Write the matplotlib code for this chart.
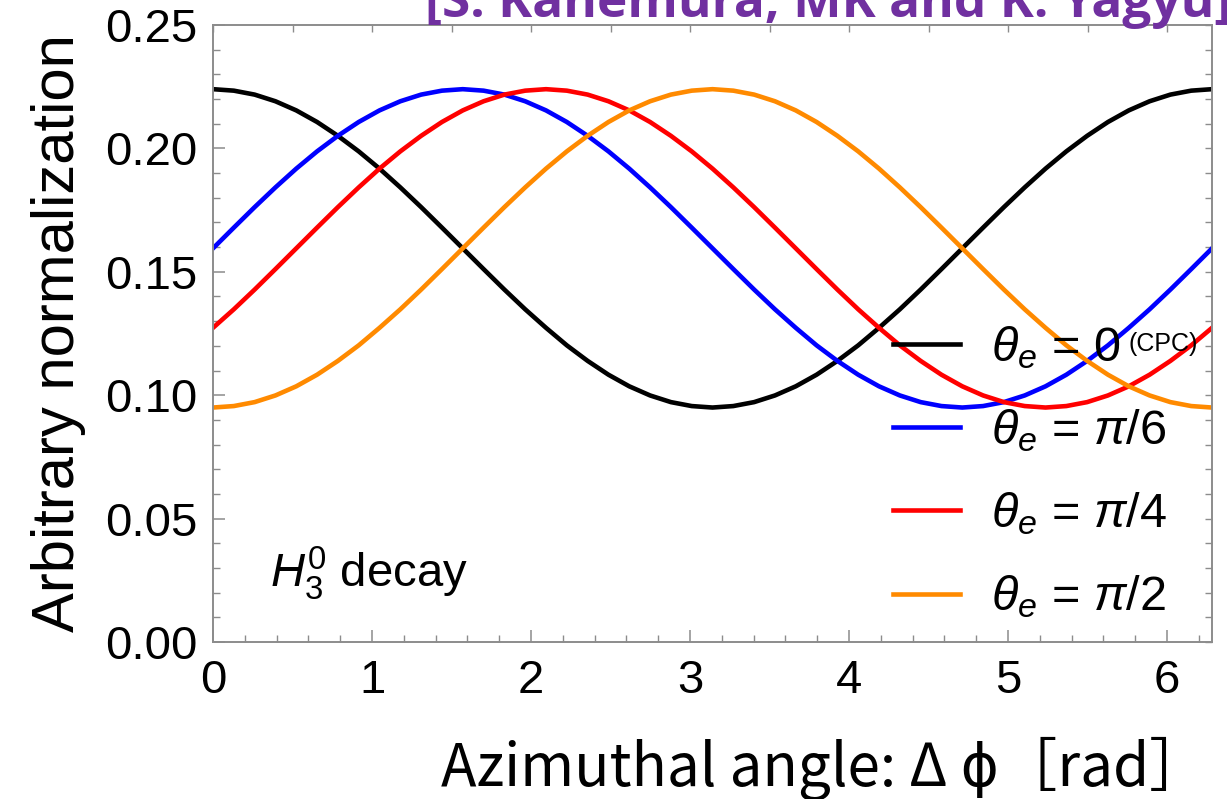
import numpy as np
import matplotlib
matplotlib.use("Agg")
import matplotlib.pyplot as plt
from matplotlib.ticker import MultipleLocator, NullFormatter

# Azimuthal angle grid, 0 .. 2*pi in steps of pi/24
dphi = np.arange(49) * np.pi / 24

# Normalized distributions for each electron-beam angle theta_e
theta_0 = [0.2240, 0.2234, 0.2218, 0.2191, 0.2154, 0.2107, 0.2051, 0.1988, 0.1918,
           0.1842, 0.1762, 0.1679, 0.1595, 0.1511, 0.1428, 0.1348, 0.1273, 0.1202,
           0.1139, 0.1083, 0.1036, 0.0999, 0.0972, 0.0956, 0.0950, 0.0956, 0.0972,
           0.0999, 0.1036, 0.1083, 0.1139, 0.1202, 0.1273, 0.1348, 0.1428, 0.1511,
           0.1595, 0.1679, 0.1762, 0.1842, 0.1918, 0.1988, 0.2051, 0.2107, 0.2154,
           0.2191, 0.2218, 0.2234, 0.2240]
theta_pi6 = [0.1595, 0.1679, 0.1762, 0.1842, 0.1918, 0.1988, 0.2051, 0.2107, 0.2154,
             0.2191, 0.2218, 0.2234, 0.2240, 0.2234, 0.2218, 0.2191, 0.2154, 0.2107,
             0.2051, 0.1988, 0.1918, 0.1842, 0.1762, 0.1679, 0.1595, 0.1511, 0.1428,
             0.1348, 0.1273, 0.1202, 0.1139, 0.1083, 0.1036, 0.0999, 0.0972, 0.0956,
             0.0950, 0.0956, 0.0972, 0.0999, 0.1036, 0.1083, 0.1139, 0.1202, 0.1273,
             0.1348, 0.1428, 0.1511, 0.1595]
theta_pi4 = [0.1273, 0.1348, 0.1428, 0.1511, 0.1595, 0.1679, 0.1762, 0.1842, 0.1918,
             0.1988, 0.2051, 0.2107, 0.2154, 0.2191, 0.2218, 0.2234, 0.2240, 0.2234,
             0.2218, 0.2191, 0.2154, 0.2107, 0.2051, 0.1988, 0.1918, 0.1842, 0.1762,
             0.1679, 0.1595, 0.1511, 0.1428, 0.1348, 0.1273, 0.1202, 0.1139, 0.1083,
             0.1036, 0.0999, 0.0972, 0.0956, 0.0950, 0.0956, 0.0972, 0.0999, 0.1036,
             0.1083, 0.1139, 0.1202, 0.1273]
theta_pi2 = [0.0950, 0.0956, 0.0972, 0.0999, 0.1036, 0.1083, 0.1139, 0.1202, 0.1273,
             0.1348, 0.1428, 0.1511, 0.1595, 0.1679, 0.1762, 0.1842, 0.1918, 0.1988,
             0.2051, 0.2107, 0.2154, 0.2191, 0.2218, 0.2234, 0.2240, 0.2234, 0.2218,
             0.2191, 0.2154, 0.2107, 0.2051, 0.1988, 0.1918, 0.1842, 0.1762, 0.1679,
             0.1595, 0.1511, 0.1428, 0.1348, 0.1273, 0.1202, 0.1139, 0.1083, 0.1036,
             0.0999, 0.0972, 0.0956, 0.0950]

series = [
    (theta_0, "#000000", r"$\theta_e$ = 0"),
    (theta_pi6, "#0000FF", r"$\theta_e$ = $\pi$/6"),
    (theta_pi4, "#FF0000", r"$\theta_e$ = $\pi$/4"),
    (theta_pi2, "#FF8A00", r"$\theta_e$ = $\pi$/2"),
]

x_ticks = [0, 1, 2, 3, 4, 5, 6]
y_ticks = [0.00, 0.05, 0.10, 0.15, 0.20, 0.25]
y_ticklabels = ["0.00", "0.05", "0.10", "0.15", "0.20", "0.25"]

plt.rcParams["font.family"] = ["Liberation Sans", "DejaVu Sans"]
plt.rcParams["mathtext.fontset"] = "custom"
plt.rcParams["mathtext.rm"] = "Liberation Sans"
plt.rcParams["mathtext.it"] = "Liberation Sans:italic"
plt.rcParams["mathtext.bf"] = "Liberation Sans:bold"

frame_gray = "#8c8c8c"

fig = plt.figure(figsize=(12.27, 7.99), dpi=100)
ax = fig.add_axes([0.1736, 0.1965, 0.8142, 0.7722])

for values, color, label in series:
    ax.plot(dphi, values, color=color, lw=3.3, label=label, solid_joinstyle="round")

ax.set_xlim(0, 2 * np.pi)
ax.set_ylim(0, 0.25)

ax.set_xticks(x_ticks)
ax.set_xticklabels([str(t) for t in x_ticks])
ax.xaxis.set_minor_locator(MultipleLocator(0.2))
ax.set_yticks(y_ticks)
ax.set_yticklabels(y_ticklabels)
ax.yaxis.set_minor_locator(MultipleLocator(0.01))

ax.tick_params(axis="both", which="major", direction="in", length=8.5, width=1.1,
               color=frame_gray, labelsize=34, labelcolor="black")
ax.tick_params(axis="both", which="minor", direction="in", length=5, width=1.0,
               color=frame_gray)
ax.tick_params(axis="x", which="major", pad=12)
ax.tick_params(axis="y", which="major", pad=11)

for side in ax.spines.values():
    side.set_color(frame_gray)
    side.set_linewidth(1.4)

# Unlabelled frame ticks on the top and right edges
top = ax.secondary_xaxis("top")
top.xaxis.set_major_locator(MultipleLocator(0.5))
top.xaxis.set_major_formatter(NullFormatter())
top.tick_params(direction="in", length=5, width=1.0, color=frame_gray)
top.spines["top"].set_visible(False)

right = ax.secondary_yaxis("right")
right.yaxis.set_major_locator(MultipleLocator(0.01))
right.yaxis.set_major_formatter(NullFormatter())
right.tick_params(direction="in", length=5, width=1.0, color=frame_gray)
right.spines["right"].set_visible(False)

ax.set_ylabel("Arbitrary normalization", fontsize=43, labelpad=14)

leg = ax.legend(loc="upper left", bbox_to_anchor=(0.681, 0.5155), frameon=False,
                fontsize=35, handlelength=1.38, handletextpad=0.62,
                labelspacing=0.75, borderaxespad=0, borderpad=0)
ax.text(0.916, 0.4715, "(CPC)", transform=ax.transAxes, fontsize=18,
        ha="left", va="baseline")

ax.text(0.057, 0.089, r"$H_3^0$ decay", transform=ax.transAxes, fontsize=34,
        ha="left", va="baseline")

fig.text(0.672, 0.016, "Azimuthal angle: Δ ϕ［rad］", ha="center", va="baseline",
         fontsize=42, family=["Noto Sans CJK JP", "DejaVu Sans"])

fig.text(0.675, 1 - 17 / 799, "[S. Kanemura, MK and K. Yagyu]", ha="center",
         va="baseline", fontsize=37, fontweight="bold", color="#7030A0",
         family=["Open Sans", "DejaVu Sans"])

fig.savefig("out.png", dpi=100)
